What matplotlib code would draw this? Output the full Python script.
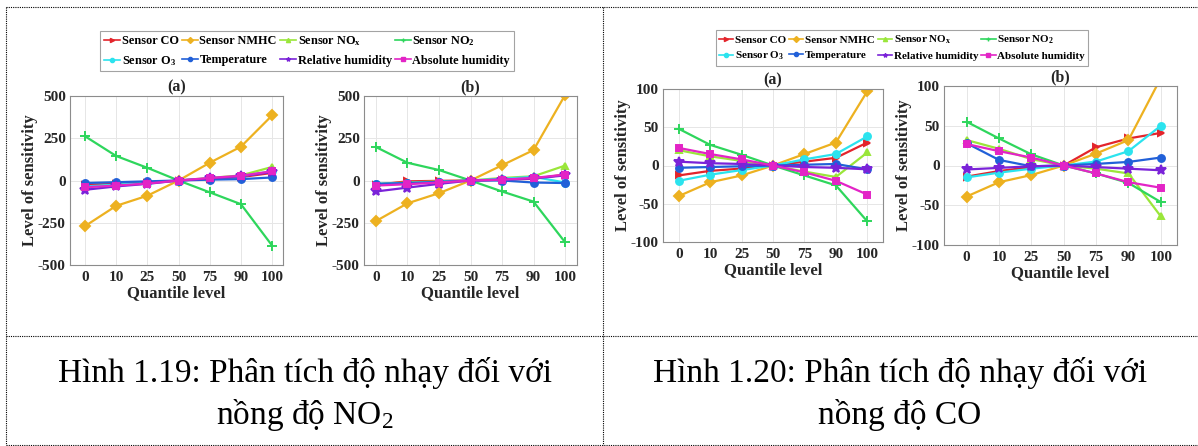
import matplotlib
matplotlib.use("Agg")
import matplotlib.pyplot as plt
from matplotlib.lines import Line2D

# quantile levels (x axis, equally spaced categories)
quantiles = ["0", "10", "25", "50", "75", "90", "100"]

series_names = ["Sensor CO", "Sensor NMHC", r"Sensor NO$_\mathbf{x}$", r"Sensor NO$_\mathbf{2}$",
                r"Sensor O$_\mathbf{3}$", "Temperature", "Relative humidity", "Absolute humidity"]

# Hinh 1.19 (NO2) - panel (a)
no2_a_co = [-25, -20, -12, 0, 10, 20, 45]
no2_a_nmhc = [-270, -150, -90, 0, 105, 200, 385]
no2_a_nox = [-40, -25, -15, 0, 15, 30, 80]
no2_a_no2 = [262, 145, 75, 0, -70, -140, -385]
no2_a_o3 = [-35, -25, -15, 0, 12, 25, 55]
no2_a_temp = [-15, -10, -5, 0, 5, 8, 18]
no2_a_rh = [-55, -35, -20, 0, 12, 25, 50]
no2_a_ah = [-40, -30, -18, 0, 15, 28, 55]

# Hinh 1.19 (NO2) - panel (b)
no2_b_co = [-25, -5, -2, 0, 5, 10, 35]
no2_b_nmhc = [-240, -135, -75, 0, 90, 180, 505]
no2_b_nox = [-20, -12, -5, 0, 15, 25, 88]
no2_b_no2 = [198, 105, 62, 0, -65, -125, -365]
no2_b_o3 = [-20, -15, -8, 0, 10, 22, -12]
no2_b_temp = [-20, -15, -8, 0, 0, -12, -15]
no2_b_rh = [-65, -42, -20, 0, 5, 12, 30]
no2_b_ah = [-30, -22, -12, 0, 5, 15, 35]

# Hinh 1.20 (CO) - panel (a)
co_a_co = [-13, -7, -4, 0, 5, 10, 30]
co_a_nmhc = [-40, -22, -13, 0, 15, 30, 97]
co_a_nox = [20, 12, 6, 0, -8, -15, 17]
co_a_no2 = [48, 27, 14, 0, -13, -26, -73]
co_a_o3 = [-20, -12, -6, 0, 8, 15, 38]
co_a_temp = [-3, -2, -1, 0, 1, 2, -5]
co_a_rh = [5, 3, 2, 0, -2, -3, -5]
co_a_ah = [23, 15, 8, 0, -9, -20, -38]

# Hinh 1.20 (CO) - panel (b)
co_b_co = [-14, -7, -2, 0, 23, 34, 41]
co_b_nmhc = [-39, -21, -12, 0, 15, 32, 110]
co_b_nox = [32, 21, 8, 0, -4, -10, -64]
co_b_no2 = [55, 34, 14, 0, -10, -22, -46]
co_b_o3 = [-15, -9, -4, 0, 5, 18, 50]
co_b_temp = [28, 7, -1, 0, 2, 4.5, 10]
co_b_rh = [-5, -3, -1, 0, -2, -4, -6]
co_b_ah = [27, 18, 10, 0, -10, -21, -28]

captions_line1 = ["Hình 1.19: Phân tích độ nhạy đối với", "Hình 1.20: Phân tích độ nhạy đối với"]
captions_line2 = ["nồng độ NO$_2$", "nồng độ CO"]

colors = ["#E3242B", "#EDB120", "#9AE63A", "#2ED65C", "#2BE3EE", "#2160D8", "#7A22D8", "#E324C6"]
markers = [">", "D", "^", "+", "o", "o", "*", "s"]

plt.rcParams["font.family"] = "Liberation Serif"
plt.rcParams["mathtext.fontset"] = "custom"
plt.rcParams["mathtext.rm"] = "Liberation Serif"
plt.rcParams["mathtext.bf"] = "Liberation Serif:bold"
plt.rcParams["mathtext.it"] = "Liberation Serif:italic"

W, H = 1198, 446
fig = plt.figure(figsize=(W / 100, H / 100), dpi=100)


def px_axes(left, top, right, bottom):
    return fig.add_axes([left / W, 1 - bottom / H, (right - left) / W, (bottom - top) / H])


def draw_panel(ax, data, title, ylim, yticks, xlim):
    x = range(len(quantiles))
    for vals, c, m in zip(data, colors, markers):
        ms = 7.5 if m in ("+", "*") else 5
        ax.plot(x, vals, color=c, lw=1.6, marker=m, ms=ms, mew=1.4, mec=c, mfc=c, clip_on=True)
    ax.set_xlim(*xlim)
    ax.set_ylim(*ylim)
    ax.set_xticks(list(x))
    ax.set_xticklabels(quantiles)
    ax.set_yticks(yticks)
    ax.set_yticklabels([str(t) for t in yticks])
    ax.grid(True, color="#e6e6e6", lw=0.7)
    ax.set_axisbelow(True)
    for s in ax.spines.values():
        s.set_color("#8c8c8c")
        s.set_linewidth(0.8)
    ax.tick_params(length=0, labelsize=11, colors="#262626", pad=4)
    ax.tick_params(axis="y", pad=3)
    for lab in ax.get_xticklabels() + ax.get_yticklabels():
        lab.set_fontweight("bold")
    ax.set_title(title, fontsize=11.5, fontweight="bold", pad=3, color="#262626")
    ax.set_xlabel("Quantile level", fontsize=12, fontweight="bold", labelpad=1, color="#262626")
    ax.set_ylabel("Level of sensitivity", fontsize=12, fontweight="bold", labelpad=0, color="#262626")


no2_a = [no2_a_co, no2_a_nmhc, no2_a_nox, no2_a_no2, no2_a_o3, no2_a_temp, no2_a_rh, no2_a_ah]
no2_b = [no2_b_co, no2_b_nmhc, no2_b_nox, no2_b_no2, no2_b_o3, no2_b_temp, no2_b_rh, no2_b_ah]
co_a = [co_a_co, co_a_nmhc, co_a_nox, co_a_no2, co_a_o3, co_a_temp, co_a_rh, co_a_ah]
co_b = [co_b_co, co_b_nmhc, co_b_nox, co_b_no2, co_b_o3, co_b_temp, co_b_rh, co_b_ah]

big_ticks = [-500, -250, 0, 250, 500]
small_ticks = [-100, -50, 0, 50, 100]

ax1 = px_axes(70, 96, 283, 265)
draw_panel(ax1, no2_a, "(a)", (-500, 500), big_ticks, (-0.48, 6.35))
ax2 = px_axes(364, 96, 577, 265)
draw_panel(ax2, no2_b, "(b)", (-500, 500), big_ticks, (-0.38, 6.38))
ax3 = px_axes(663, 89, 883, 242)
draw_panel(ax3, co_a, "(a)", (-100, 100), small_ticks, (-0.5, 6.5))
ax4 = px_axes(944, 86, 1177, 245)
draw_panel(ax4, co_b, "(b)", (-100, 100), small_ticks, (-0.7, 6.5))

# legends (row-wise order like the original)
handles = [Line2D([], [], color=c, lw=1.2, marker=m, ms=3) for c, m in zip(colors, markers)]
order = [0, 4, 1, 5, 2, 6, 3, 7]
for cx, cy, fs, ls in [(307, 51, 8.8, 0.55), (902, 48, 8.0, 0.45)]:
    leg = fig.legend([handles[i] for i in order], [series_names[i] for i in order], ncol=4,
                     loc="center", bbox_to_anchor=(cx / W, 1 - cy / H),
                     prop={"weight": "bold", "size": fs}, frameon=True, fancybox=False,
                     edgecolor="#8c8c8c", handlelength=1.3, handletextpad=0.15,
                     columnspacing=0.25, labelspacing=ls, borderpad=0.3)
    leg.get_frame().set_linewidth(0.8)

# captions
for cx, l1, l2 in zip([305, 900], captions_line1, captions_line2):
    fig.text(cx / W, 1 - 382 / H, l1, ha="center", va="baseline", fontsize=24, color="black")
    fig.text(cx / W, 1 - 424 / H, l2, ha="center", va="baseline", fontsize=24, color="black")

# dotted table borders
dot = dict(color="black", lw=0.8, linestyle=(0, (1, 1)))
for y in [6.5, 336, 444.5]:
    fig.add_artist(Line2D([6 / W, 1], [1 - y / H, 1 - y / H], transform=fig.transFigure, **dot))
for x in [6, 603]:
    fig.add_artist(Line2D([x / W, x / W], [1 - 6.5 / H, 1 - 444.5 / H], transform=fig.transFigure, **dot))

fig.savefig("out.png", dpi=100)
